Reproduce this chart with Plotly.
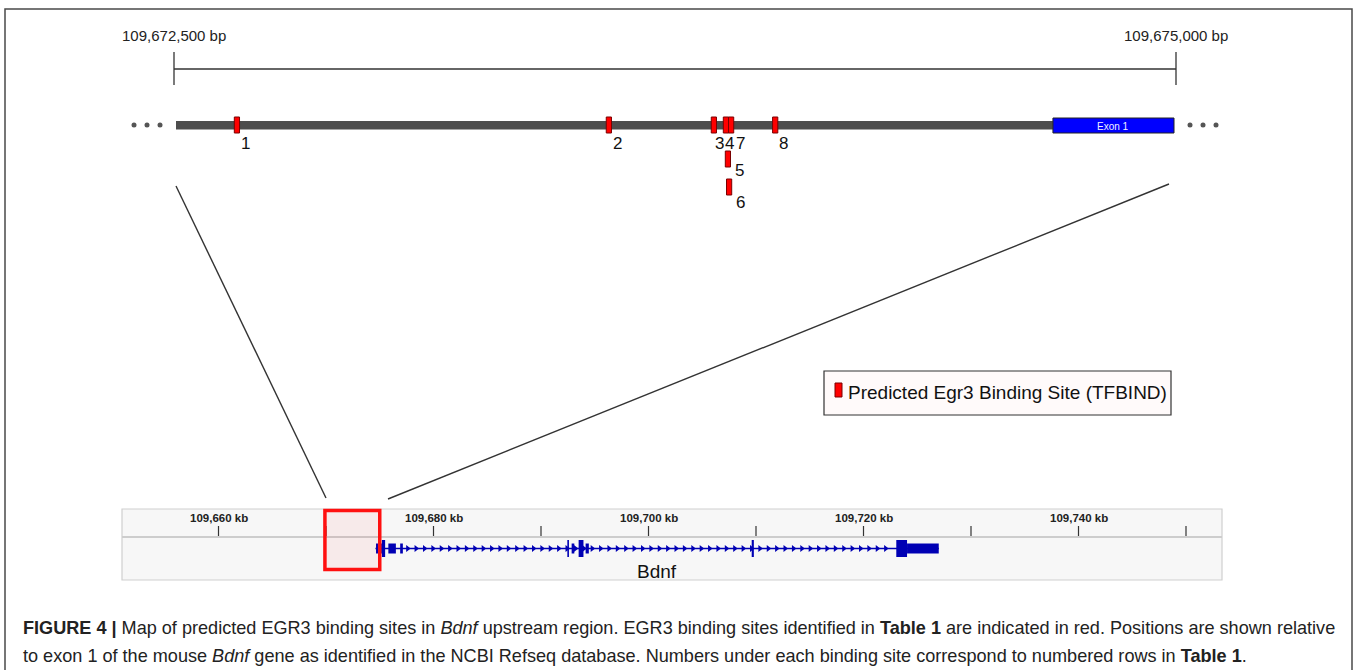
import numpy as np
import plotly.graph_objects as go

W, H = 1355, 670
OFF = 0

# ---------------- data: upstream region (bp) ----------------
region_start_bp = 109672500
region_end_bp = 109675000
region_labels = ["109,672,500 bp", "109,675,000 bp"]

site_ids = ["1", "2", "3", "4", "5", "6", "7", "8"]
site_pos_bp = [109672657, 109673585, 109673847, 109673877,
               109673882, 109673885, 109673890, 109674000]
site_row = [0, 0, 0, 0, 1, 2, 0, 0]

exon1_bp = [109674693, 109674995]
exon1_label = "Exon 1"

legend_label = "Predicted Egr3 Binding Site (TFBIND)"

# ---------------- data: Bdnf gene track (kb) ----------------
ruler_ticks_kb = [109660, 109670, 109680, 109690, 109700,
                  109710, 109720, 109730, 109740, 109750]
ruler_labels_kb = [109660, 109680, 109700, 109720, 109740]
gene_name = "Bdnf"
gene_start_kb = 109674.6
gene_end_kb = 109727.0
exon_start_kb = [109674.65, 109675.20, 109675.80, 109676.90,
                 109692.45, 109692.85, 109693.50, 109694.15,
                 109709.60, 109723.05, 109724.05]
exon_end_kb = [109675.20, 109675.50, 109676.50, 109677.15,
               109692.60, 109693.10, 109693.95, 109694.45,
               109709.80, 109724.05, 109727.00]
exon_tall = [False, True, False, False,
             True, False, True, False,
             True, True, False]
zoom_box_kb = [109669.9, 109675.0]

caption_1 = ("<b>FIGURE 4 |</b> Map of predicted EGR3 binding sites in <i>Bdnf</i> upstream region. "
             "EGR3 binding sites identified in <b>Table 1</b> are indicated in red. Positions are shown relative")
caption_2 = ("to exon 1 of the mouse <i>Bdnf</i> gene as identified in the NCBI Refseq database. "
             "Numbers under each binding site correspond to numbered rows in <b>Table 1</b>.")

# ---------------- scales (pixel mapping of the two genomic axes) ----------------
bp_px0, bp_px1 = 174.0 - OFF, 1176.0 - OFF
bp_per_px = (region_end_bp - region_start_bp) / (bp_px1 - bp_px0)
x_range_bp = [region_start_bp - bp_px0 * bp_per_px, region_start_bp + (W - bp_px0) * bp_per_px]

kb_px_ref, kb_px_per_kb = 218.5 - OFF, 10.75
x_range_kb = [109660 - kb_px_ref / kb_px_per_kb, 109660 + (W - kb_px_ref) / kb_px_per_kb]

FONT = "Liberation Sans, Arial, sans-serif"
DARK = "#333333"
GENE_BLUE = "#0000b4"

fig = go.Figure()
shapes = []
annotations = []

def P(x):
    return (x - OFF) / W

# outer frame
shapes.append(dict(type="rect", xref="paper", yref="y", x0=P(5), x1=P(1352), y0=9, y1=700,
                   line=dict(color="#4a4a4a", width=1.5), fillcolor="rgba(0,0,0,0)", layer="below"))

# ---------- top ruler ----------
shapes.append(dict(type="line", xref="x", yref="y", x0=region_start_bp, x1=region_end_bp, y0=69, y1=69,
                   line=dict(color=DARK, width=1.3)))
for b, lab in zip([region_start_bp, region_end_bp], region_labels):
    shapes.append(dict(type="line", xref="x", yref="y", x0=b, x1=b, y0=52, y1=85,
                       line=dict(color=DARK, width=1.3)))
    annotations.append(dict(xref="x", yref="y", x=b, y=35, text=lab, showarrow=False,
                            font=dict(family=FONT, size=15, color="#222"), xanchor="center", yanchor="middle"))

# ---------- upstream track ----------
shapes.append(dict(type="rect", xref="x", yref="y", x0=region_start_bp + 5, x1=exon1_bp[0], y0=121, y1=129.5,
                   line=dict(width=0), fillcolor="#4d4d4d"))
shapes.append(dict(type="rect", xref="x", yref="y", x0=exon1_bp[0], x1=exon1_bp[1], y0=118, y1=133,
                   line=dict(color="#222", width=1), fillcolor="#0000ff"))
annotations.append(dict(xref="x", yref="y", x=(exon1_bp[0] + exon1_bp[1]) / 2, y=126, text=exon1_label,
                        showarrow=False, font=dict(family=FONT, size=10, color="#f0f0ff")))

# ellipsis dots
for cx in [134, 147, 160, 1190, 1203, 1216]:
    shapes.append(dict(type="circle", xref="paper", yref="y", x0=P(cx - 2.5), x1=P(cx + 2.5), y0=122.5, y1=127.5,
                       line=dict(width=0), fillcolor="#555555"))

row_mark_y = [125, 159, 187]
row_label_y = [143, 170, 202]
label_shift = [9, 9, 6, 4, 12, 11, 9, 8]
site_w_bp = 13
for sid, pos, row, sh in zip(site_ids, site_pos_bp, site_row, label_shift):
    cy = row_mark_y[row]
    shapes.append(dict(type="rect", xref="x", yref="y", x0=pos - site_w_bp / 2, x1=pos + site_w_bp / 2,
                       y0=cy - 8, y1=cy + 8, line=dict(color="#7a0000", width=1), fillcolor="#ff0000"))
    annotations.append(dict(xref="x", yref="y", x=pos, y=row_label_y[row], xshift=sh, text=sid,
                            showarrow=False, font=dict(family=FONT, size=17, color="#111"),
                            xanchor="center", yanchor="middle"))

# ---------- legend box ----------
shapes.append(dict(type="rect", xref="paper", yref="y", x0=P(824), x1=P(1171), y0=371, y1=415,
                   line=dict(color="#333", width=1.2), fillcolor="#fffafa"))
shapes.append(dict(type="rect", xref="paper", yref="y", x0=P(835), x1=P(842), y0=383, y1=397,
                   line=dict(color="#7a0000", width=1), fillcolor="#ff0000"))
annotations.append(dict(xref="paper", yref="y", x=P(846), y=392, text=legend_label, showarrow=False,
                        xanchor="left", yanchor="middle", font=dict(family=FONT, size=19, color="#111")))

# ---------- connectors ----------
shapes.append(dict(type="line", xref="paper", yref="y", x0=P(176), y0=186, x1=P(326), y1=498,
                   line=dict(color=DARK, width=1.4)))
shapes.append(dict(type="line", xref="paper", yref="y", x0=P(1169), y0=184, x1=P(388), y1=499,
                   line=dict(color=DARK, width=1.4)))

# ---------- IGV-like panel ----------
shapes.append(dict(type="rect", xref="paper", yref="y", x0=P(122), x1=P(1222), y0=509, y1=580,
                   line=dict(color="#cfcfcf", width=1.2), fillcolor="#f7f7f7", layer="below"))
shapes.append(dict(type="line", xref="paper", yref="y", x0=P(122), x1=P(1222), y0=537, y1=537,
                   line=dict(color="#cdcdcd", width=2)))
for t in ruler_ticks_kb:
    shapes.append(dict(type="line", xref="x2", yref="y", x0=t, x1=t, y0=526, y1=536,
                       line=dict(color="#333", width=1.2)))
for t in ruler_labels_kb:
    annotations.append(dict(xref="x2", yref="y", x=t, y=518, text=f"<b>{t:,} kb</b>", showarrow=False,
                            font=dict(family=FONT, size=11.5, color="#222"), xanchor="center", yanchor="middle"))

# gene intron line
shapes.append(dict(type="line", xref="x2", yref="y", x0=gene_start_kb, x1=gene_end_kb, y0=548.5, y1=548.5,
                   line=dict(color=GENE_BLUE, width=1.5)))
for s, e, tall in zip(exon_start_kb, exon_end_kb, exon_tall):
    hh = 8.5 if tall else 5
    shapes.append(dict(type="rect", xref="x2", yref="y", x0=s, x1=e, y0=548.5 - hh, y1=548.5 + hh,
                       line=dict(width=0), fillcolor=GENE_BLUE))
annotations.append(dict(xref="x2", yref="y", x=(gene_start_kb + gene_end_kb) / 2, y=571, text=gene_name,
                        showarrow=False, font=dict(family=FONT, size=19, color="#111")))

# strand chevrons drawn along the intron (IGV style decoration)
chev = np.arange(gene_start_kb + 3.0, exon_start_kb[-2] - 0.5, 0.78)
fig.add_trace(go.Scatter(x=chev, y=[548.5] * len(chev), xaxis="x2", yaxis="y", mode="markers",
                         marker=dict(symbol="triangle-right", size=6, color=GENE_BLUE),
                         hoverinfo="skip", showlegend=False))
# anchor trace for the bp axis
fig.add_trace(go.Scatter(x=site_pos_bp, y=[row_mark_y[r] for r in site_row], xaxis="x", yaxis="y",
                         mode="markers", marker=dict(size=1, opacity=0), hoverinfo="skip", showlegend=False))

# zoom box
shapes.append(dict(type="rect", xref="x2", yref="y", x0=zoom_box_kb[0], x1=zoom_box_kb[1], y0=510.5, y1=569.5,
                   line=dict(color="#ff1010", width=3.5), fillcolor="rgba(255,0,0,0.05)", layer="above"))

# ---------- caption ----------
annotations.append(dict(xref="paper", yref="y", x=P(21), y=628, text=caption_1, showarrow=False,
                        xanchor="left", yanchor="middle", font=dict(family=FONT, size=18.1, color="#222")))
annotations.append(dict(xref="paper", yref="y", x=P(21), y=656, text=caption_2, showarrow=False,
                        xanchor="left", yanchor="middle", font=dict(family=FONT, size=18.1, color="#222")))

fig.update_layout(
    width=W, height=H, margin=dict(l=0, r=0, t=0, b=0),
    paper_bgcolor="white", plot_bgcolor="rgba(0,0,0,0)", showlegend=False,
    xaxis=dict(range=x_range_bp, visible=False, domain=[0, 1], fixedrange=True),
    xaxis2=dict(range=x_range_kb, visible=False, overlaying="x", anchor="y", fixedrange=True),
    yaxis=dict(range=[H + OFF, OFF], visible=False, domain=[0, 1], fixedrange=True),
    shapes=shapes, annotations=annotations,
)
fig.write_html("out.html", config={"displayModeBar": False},
               post_script="document.body.style.margin='0px';document.body.style.overflow='hidden';")
